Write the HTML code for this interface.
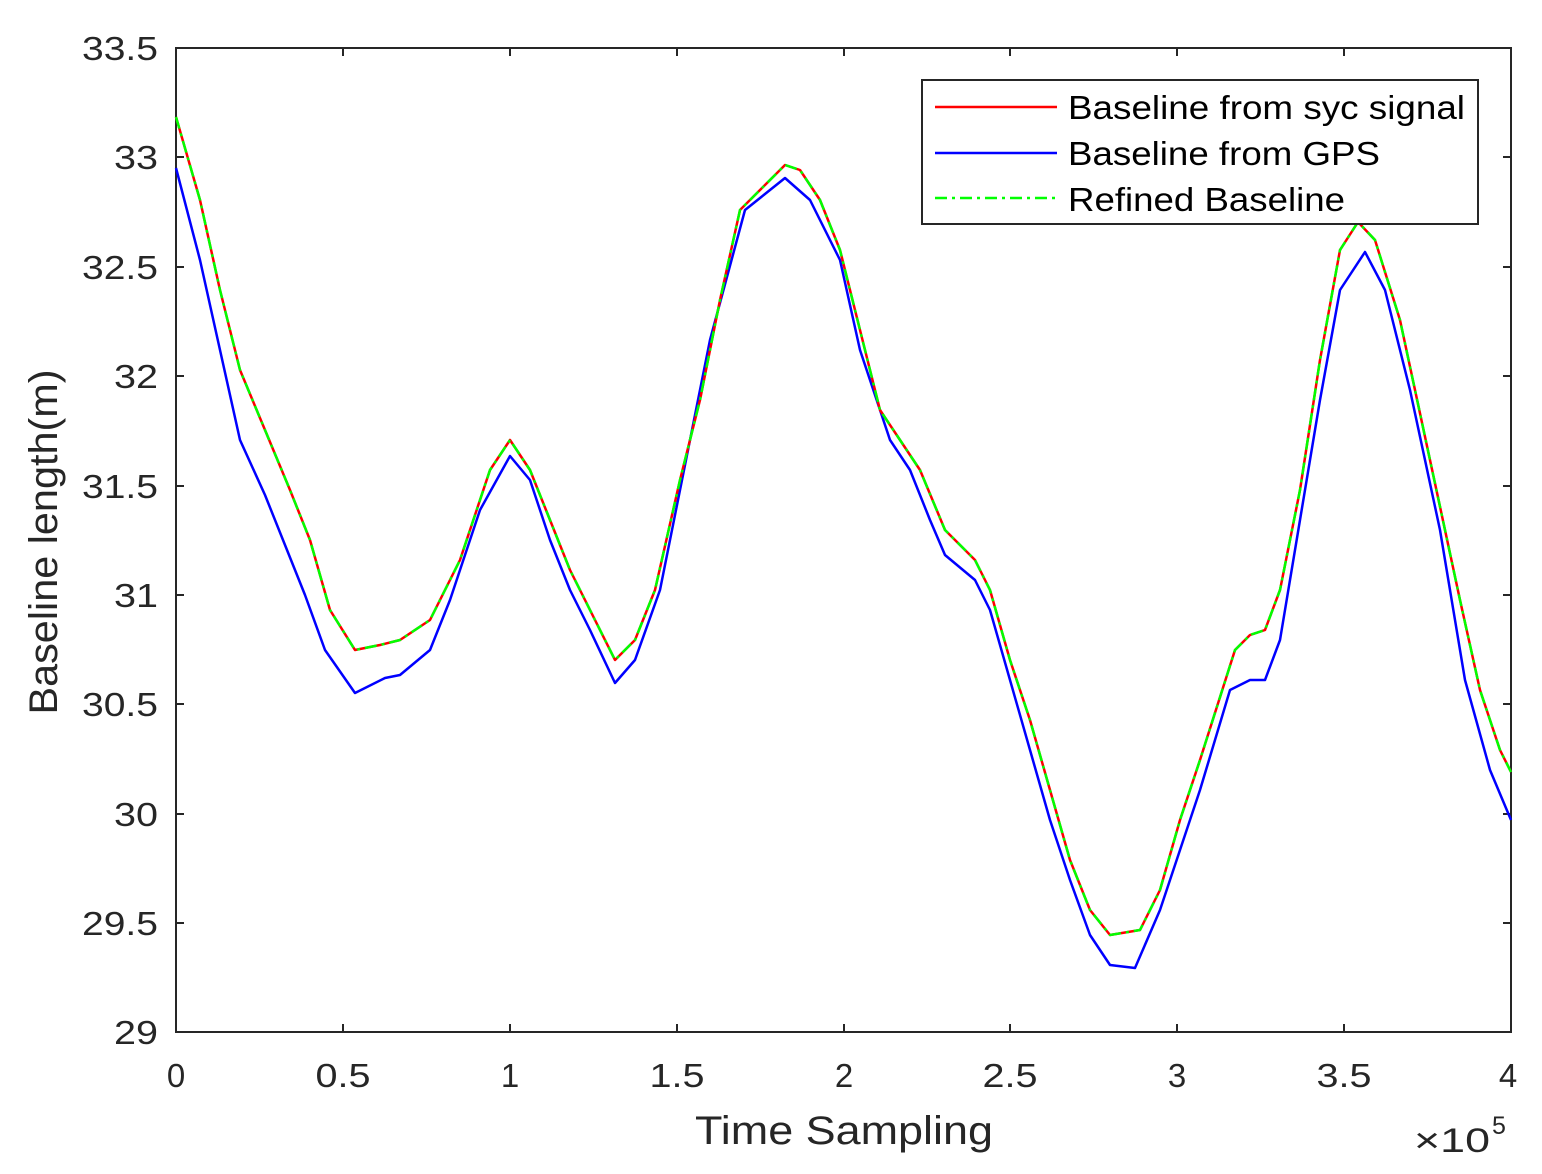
<!DOCTYPE html>
<html><head><style>body{margin:0;background:#fff}svg{display:block}text{font-family:"Liberation Sans",Arial,sans-serif;fill:#262626}</style></head>
<body>
<svg width="1542" height="1174" viewBox="0 0 1542 1174">
<rect width="1542" height="1174" fill="#fff"/>
<g stroke="#262626" stroke-width="2" fill="none">
<rect x="176" y="48" width="1335" height="984"/>
<path d="M176 1032v-8M343 1032v-8M510 1032v-8M677 1032v-8M844 1032v-8M1010 1032v-8M1177 1032v-8M1344 1032v-8M176 48v8M343 48v8M510 48v8M677 48v8M844 48v8M1010 48v8M1177 48v8M1344 48v8
M176 923h8M176 814h8M176 704h8M176 595h8M176 486h8M176 376h8M176 267h8M176 157h8M1511 923h-8M1511 814h-8M1511 704h-8M1511 595h-8M1511 486h-8M1511 376h-8M1511 267h-8M1511 157h-8"/>
</g>
<g font-size="33" text-anchor="middle" lengthAdjust="spacingAndGlyphs">
<text x="176" y="1087" textLength="20">0</text><text x="343" y="1087" textLength="55" lengthAdjust="spacingAndGlyphs">0.5</text><text x="510" y="1087" textLength="20">1</text><text x="677" y="1087" textLength="55" lengthAdjust="spacingAndGlyphs">1.5</text><text x="844" y="1087" textLength="20">2</text><text x="1010" y="1087" textLength="55" lengthAdjust="spacingAndGlyphs">2.5</text><text x="1177" y="1087" textLength="20">3</text><text x="1344" y="1087" textLength="55" lengthAdjust="spacingAndGlyphs">3.5</text><text x="1508" y="1087" textLength="20">4</text>
</g>
<g font-size="33" text-anchor="end">
<text x="158" y="1044" textLength="44" lengthAdjust="spacingAndGlyphs">29</text><text x="158" y="935" textLength="76" lengthAdjust="spacingAndGlyphs">29.5</text><text x="158" y="826" textLength="44" lengthAdjust="spacingAndGlyphs">30</text><text x="158" y="716" textLength="76" lengthAdjust="spacingAndGlyphs">30.5</text><text x="158" y="607" textLength="44" lengthAdjust="spacingAndGlyphs">31</text><text x="158" y="498" textLength="76" lengthAdjust="spacingAndGlyphs">31.5</text><text x="158" y="388" textLength="44" lengthAdjust="spacingAndGlyphs">32</text><text x="158" y="279" textLength="76" lengthAdjust="spacingAndGlyphs">32.5</text><text x="158" y="169" textLength="44" lengthAdjust="spacingAndGlyphs">33</text><text x="158" y="60" textLength="76" lengthAdjust="spacingAndGlyphs">33.5</text>
</g>
<text x="844" y="1144" font-size="40" text-anchor="middle" textLength="298" lengthAdjust="spacingAndGlyphs">Time Sampling</text>
<text transform="translate(57,542) rotate(-90)" font-size="40" text-anchor="middle" textLength="345" lengthAdjust="spacingAndGlyphs">Baseline length(m)</text>
<text x="1414" y="1152" font-size="34" textLength="76" lengthAdjust="spacingAndGlyphs">×10</text><text x="1492" y="1134" font-size="25">5</text>
<g fill="none" stroke-linejoin="round" stroke-width="2.5">
<polyline stroke="#0000ff" points="176,168 200,260 220,350 240,440 265,495 285,545 305,595 325,650 355,693 385,678 400,675 430,650 450,600 480,510 510,456 530,480 550,540 570,590 590,630 615,683 635,660 660,590 690,440 710,340 745,210 785,178 810,200 840,260 860,350 890,440 910,470 930,520 945,555 975,580 990,610 1010,680 1030,750 1050,820 1070,880 1090,935 1110,965 1135,968 1160,910 1180,850 1200,790 1230,690 1250,680 1265,680 1280,640 1300,520 1320,400 1340,290 1365,252 1385,290 1410,390 1440,530 1465,680 1490,770 1511,820"/>
<polyline stroke="#ff0000" points="176,117 200,200 220,290 240,370 265,430 290,490 310,540 330,610 355,650 380,645 400,640 430,620 460,560 490,470 510,440 530,470 550,520 570,570 590,610 615,660 635,640 655,590 680,480 700,400 720,300 740,210 765,185 785,165 800,170 820,200 840,250 860,330 880,410 900,440 920,470 945,530 975,560 990,590 1010,660 1030,720 1050,790 1070,860 1090,910 1110,935 1140,930 1160,890 1180,820 1200,760 1235,650 1250,635 1265,630 1280,590 1300,490 1320,360 1340,250 1358,222 1375,240 1400,320 1430,460 1460,600 1480,690 1500,750 1511,772"/>
<polyline stroke="#00ff00" stroke-dasharray="12,5,3,5" points="176,117 200,200 220,290 240,370 265,430 290,490 310,540 330,610 355,650 380,645 400,640 430,620 460,560 490,470 510,440 530,470 550,520 570,570 590,610 615,660 635,640 655,590 680,480 700,400 720,300 740,210 765,185 785,165 800,170 820,200 840,250 860,330 880,410 900,440 920,470 945,530 975,560 990,590 1010,660 1030,720 1050,790 1070,860 1090,910 1110,935 1140,930 1160,890 1180,820 1200,760 1235,650 1250,635 1265,630 1280,590 1300,490 1320,360 1340,250 1358,222 1375,240 1400,320 1430,460 1460,600 1480,690 1500,750 1511,772"/>
</g>
<rect x="922" y="80" width="556" height="144" fill="#fff" stroke="#262626" stroke-width="2"/>
<g stroke-width="2.5">
<line x1="935" y1="107" x2="1057" y2="107" stroke="#ff0000"/>
<line x1="935" y1="153" x2="1057" y2="153" stroke="#0000ff"/>
<line x1="935" y1="198" x2="1057" y2="198" stroke="#00ff00" stroke-dasharray="12,5,3,5"/>
</g>
<g font-size="33">
<text x="1068" y="119" style="fill:#000" textLength="397" lengthAdjust="spacingAndGlyphs">Baseline from syc signal</text>
<text x="1068" y="165" style="fill:#000" textLength="312" lengthAdjust="spacingAndGlyphs">Baseline from GPS</text>
<text x="1068" y="211" style="fill:#000" textLength="277" lengthAdjust="spacingAndGlyphs">Refined Baseline</text>
</g>
</svg>
</body></html>
